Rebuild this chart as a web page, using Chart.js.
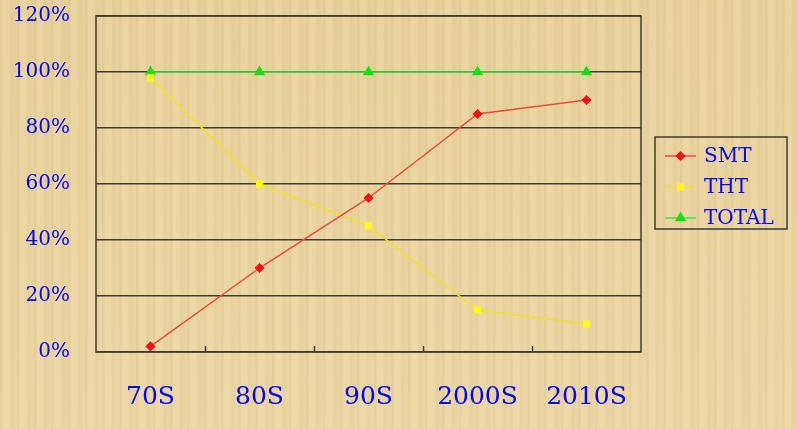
<!DOCTYPE html>
<html>
<head>
<meta charset="utf-8">
<script src="https://cdn.jsdelivr.net/npm/chart.js@4/dist/chart.umd.min.js"></script>
<style>
  html, body { margin: 0; padding: 0; }
  body {
    width: 798px; height: 429px; overflow: hidden;
    background-color: #e9d39f;
    background-image:
      repeating-linear-gradient(90deg, rgba(190,150,80,0.10) 0px, rgba(190,150,80,0.10) 2px, rgba(255,240,200,0.10) 3px, rgba(255,240,200,0.10) 9px, rgba(180,140,70,0.07) 11px, rgba(180,140,70,0.0) 17px),
      linear-gradient(0deg, rgba(255,245,215,0.10), rgba(200,160,90,0.06));
  }
  #wrap { position: relative; width: 798px; height: 429px; }
</style>
</head>
<body>
<div id="wrap"><canvas id="c" width="798" height="429"></canvas></div>
<script>
// decades on the x axis, shares in percent
const categories = ["70S", "80S", "90S", "2000S", "2010S"];
const smtValues = [2, 30, 55, 85, 90];
const thtValues = [98, 60, 45, 15, 10];
const totalValues = [100, 100, 100, 100, 100];
const yMax = 120;
const yStep = 20;

const AXIS_COLOR = "#3f3c33";
const LABEL_FONT = "'DejaVu Serif', 'Liberation Serif', serif";

// frame, inner category ticks and the boxed legend
const framePlugin = {
  id: "frame",
  afterDraw(chart) {
    const ctx = chart.ctx;
    const a = chart.chartArea;
    const xs = chart.scales.x;
    ctx.save();
    ctx.strokeStyle = AXIS_COLOR;
    ctx.lineWidth = 1.5;
    ctx.strokeRect(a.left, a.top, a.right - a.left, a.bottom - a.top);
    // small tick marks between categories, pointing up into the plot
    ctx.beginPath();
    for (let i = 0; i < categories.length - 1; i++) {
      const x = Math.round((xs.getPixelForTick(i) + xs.getPixelForTick(i + 1)) / 2) + 0.5;
      ctx.moveTo(x, a.bottom);
      ctx.lineTo(x, a.bottom - 6);
    }
    ctx.stroke();

    // legend
    const bx = a.right + 14, by = 137, bw = 132, bh = 92;
    ctx.strokeStyle = "#3a3a36";
    ctx.lineWidth = 1.5;
    ctx.strokeRect(bx, by, bw, bh);
    ctx.font = "20px " + LABEL_FONT;
    ctx.textBaseline = "middle";
    chart.data.datasets.forEach((ds, i) => {
      const y = by + 19 + i * 31;
      ctx.strokeStyle = ds.borderColor;
      ctx.lineWidth = 1.5;
      ctx.beginPath();
      ctx.moveTo(bx + 10, y);
      ctx.lineTo(bx + 41, y);
      ctx.stroke();
      ctx.fillStyle = ds.pointBackgroundColor;
      ctx.strokeStyle = ds.pointBackgroundColor;
      Chart.helpers.drawPoint(ctx, { pointStyle: ds.pointStyle, radius: ds.pointRadius, borderWidth: 1 }, bx + 25.5, y);
      ctx.fillStyle = "#0000ff";
      ctx.fillText(ds.label, bx + 49, y + 1);
    });
    ctx.restore();
  }
};

new Chart(document.getElementById("c"), {
  type: "line",
  data: {
    labels: categories,
    datasets: [
      { label: "SMT", data: smtValues, borderColor: "#f24a36", borderWidth: 1.5,
        pointStyle: "rectRot", pointRadius: 4, pointBackgroundColor: "#ff1010", pointBorderColor: "#ff1010" },
      { label: "THT", data: thtValues, borderColor: "#eee22c", borderWidth: 1.5,
        pointStyle: "rect", pointRadius: 4, pointBackgroundColor: "#ffff00", pointBorderColor: "#ffff00" },
      { label: "TOTAL", data: totalValues, borderColor: "#3ee83a", borderWidth: 1.5,
        pointStyle: "triangle", pointRadius: 5, pointBackgroundColor: "#10e010", pointBorderColor: "#10e010" },
    ],
  },
  options: {
    responsive: false,
    animation: false,
    layout: { padding: { top: 16, right: 157, left: 0, bottom: 0 } },
    plugins: { legend: { display: false }, tooltip: { enabled: false } },
    scales: {
      x: {
        offset: true,
        grid: { display: false },
        border: { display: false },
        ticks: { color: "#0000ff", font: { family: LABEL_FONT, size: 25 }, padding: 22, maxRotation: 0 },
        afterFit(s) { s.height = 77; s.paddingLeft = 0; s.paddingRight = 0; },
      },
      y: {
        min: 0, max: yMax,
        grid: { color: AXIS_COLOR, lineWidth: 1.5, drawTicks: false },
        border: { display: false },
        ticks: { stepSize: yStep, color: "#0000ff", font: { family: LABEL_FONT, size: 20 }, padding: 26,
                 callback: v => v + "%" },
        afterFit(s) { s.width = 96; s.paddingTop = 0; s.paddingBottom = 0; },
      },
    },
  },
  plugins: [framePlugin],
});
</script>
</body>
</html>
